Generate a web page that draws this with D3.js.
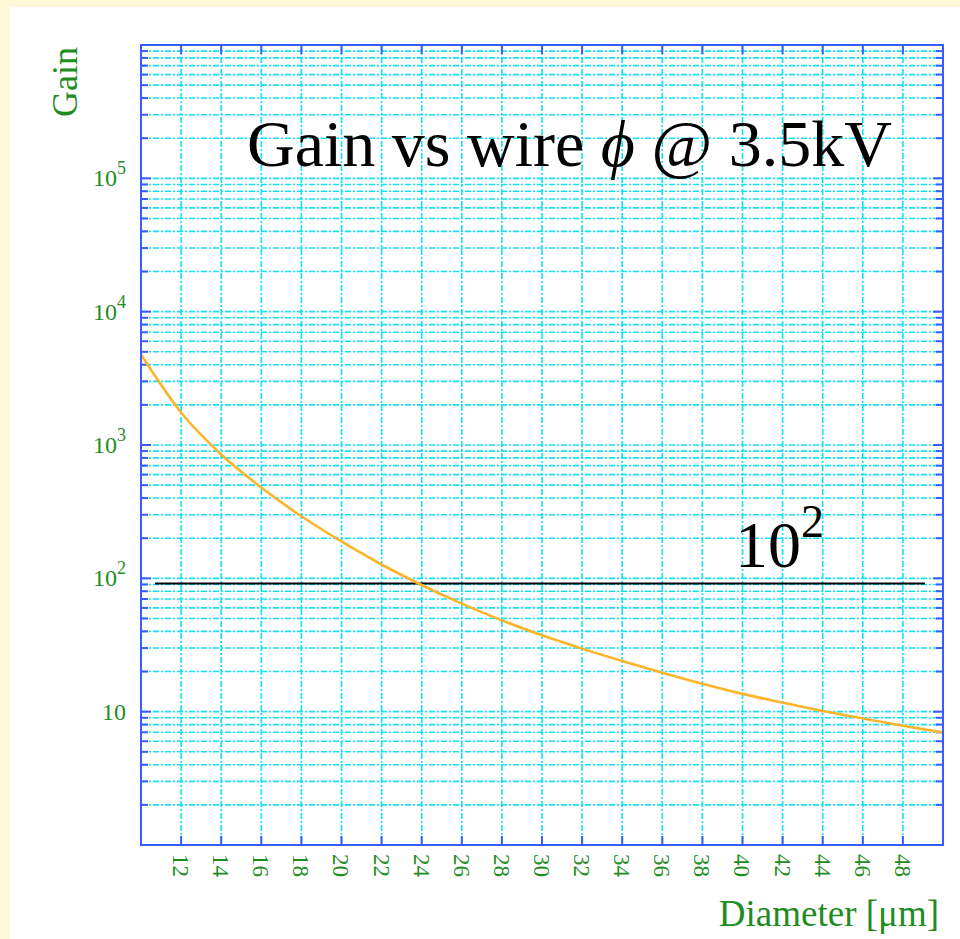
<!DOCTYPE html>
<html lang="en">
<head>
<meta charset="utf-8">
<title>Gain vs wire diameter</title>
<script src="https://cdn.jsdelivr.net/npm/d3@7"></script>
<style>
  body { margin: 0; background: #fdf8d8; }
  svg { display: block; }
</style>
</head>
<body>
<svg width="960" height="939"></svg>
<script>
// wire diameter [um] and gas gain
var diameters = [10, 12, 14, 16, 18, 20, 22, 24, 26, 28, 30, 32, 34, 36, 38, 40, 42, 44, 46, 48, 50];
var gains = [4775, 1754, 849, 480, 292, 189, 127, 89.1, 64.6, 48.4, 37.4, 29.7, 24.0, 19.6, 16.2, 13.6, 11.7, 10.1, 8.89, 7.85, 6.98];

// the horizontal reference line marked 10^2
var refX = [10.7, 49.1];
var refGain = [91.5, 91.5];

var xTicks = [12, 14, 16, 18, 20, 22, 24, 26, 28, 30, 32, 34, 36, 38, 40, 42, 44, 46, 48];
var yMajor = [10, 100, 1000, 10000, 100000];
var yMajorLabels = [["10", ""], ["10", "2"], ["10", "3"], ["10", "4"], ["10", "5"]];

var svg = d3.select("svg");
var green = "#1f8c1f", blue = "#3a5cff", cyan = "#10e2f6";
var serif = "'Liberation Serif', 'Times New Roman', serif";

var pLeft = 141, pTop = 45, pWidth = 802, pHeight = 800;

svg.append("rect").attr("x", 10).attr("y", 7).attr("width", 950).attr("height", 932).attr("fill", "#fff");

var x = d3.scaleLinear().domain([10, 50]).range([pLeft, pLeft + pWidth]);
var y = d3.scaleLog().domain([1, 1e6]).range([pTop + pHeight, pTop]);

// minor positions 1..9 x 10^k
var yAll = [];
for (var k = 0; k < 6; k++) for (var m = 1; m < 10; m++) yAll.push(m * Math.pow(10, k));
var yGrid = yAll.filter(function(v) { return v > 1; });

var g = svg.append("g");

// grid
g.selectAll(".hg").data(yGrid).enter().append("line")
  .attr("x1", pLeft).attr("x2", pLeft + pWidth)
  .attr("y1", function(d) { return y(d); }).attr("y2", function(d) { return y(d); })
  .attr("stroke", cyan).attr("stroke-width", 1.6).attr("stroke-dasharray", "6,2,2,2");
g.selectAll(".vg").data(xTicks).enter().append("line")
  .attr("x1", function(d) { return x(d); }).attr("x2", function(d) { return x(d); })
  .attr("y1", pTop).attr("y2", pTop + pHeight)
  .attr("stroke", cyan).attr("stroke-width", 1.6).attr("stroke-dasharray", "6,2,2,2");

// ticks on all four sides, pointing inward
function tickLen(v) { return yMajor.indexOf(v) >= 0 ? 10 : 7; }
g.selectAll(".lt").data(yGrid).enter().append("line")
  .attr("x1", pLeft).attr("x2", function(d) { return pLeft + tickLen(d); })
  .attr("y1", function(d) { return y(d); }).attr("y2", function(d) { return y(d); })
  .attr("stroke", blue).attr("stroke-width", 2);
g.selectAll(".rt").data(yGrid).enter().append("line")
  .attr("x1", pLeft + pWidth).attr("x2", function(d) { return pLeft + pWidth - tickLen(d); })
  .attr("y1", function(d) { return y(d); }).attr("y2", function(d) { return y(d); })
  .attr("stroke", blue).attr("stroke-width", 2);
g.selectAll(".bt").data(xTicks).enter().append("line")
  .attr("x1", function(d) { return x(d); }).attr("x2", function(d) { return x(d); })
  .attr("y1", pTop + pHeight).attr("y2", pTop + pHeight - 9)
  .attr("stroke", blue).attr("stroke-width", 2);
g.selectAll(".tt").data(xTicks).enter().append("line")
  .attr("x1", function(d) { return x(d); }).attr("x2", function(d) { return x(d); })
  .attr("y1", pTop).attr("y2", pTop + 9)
  .attr("stroke", blue).attr("stroke-width", 2);

// curve and reference line
var line = d3.line().x(function(d) { return x(d[0]); }).y(function(d) { return y(d[1]); });
g.append("path").datum(d3.zip(refX, refGain)).attr("d", line)
  .attr("fill", "none").attr("stroke", "#000").attr("stroke-width", 2);
g.append("path").datum(d3.zip(diameters, gains)).attr("d", line.curve(d3.curveMonotoneX))
  .attr("fill", "none").attr("stroke", "#fdb42a").attr("stroke-width", 2.6);

// frame
g.append("rect").attr("x", pLeft).attr("y", pTop).attr("width", pWidth).attr("height", pHeight)
  .attr("fill", "none").attr("stroke", blue).attr("stroke-width", 2);

// y tick labels
var yl = svg.selectAll(".yl").data(yMajor).enter().append("text")
  .attr("x", 126).attr("y", function(d) { return y(d) + 8; })
  .attr("text-anchor", "end").attr("fill", green)
  .style("font-family", serif).style("font-size", "24px");
yl.append("tspan").text(function(d, i) { return yMajorLabels[i][0]; });
yl.append("tspan").attr("dy", -12).style("font-size", "18px")
  .text(function(d, i) { return yMajorLabels[i][1]; });

// x tick labels, rotated
svg.selectAll(".xl").data(xTicks).enter().append("text")
  .attr("transform", function(d) { return "translate(" + x(d) + "," + 854 + ") rotate(90)"; })
  .attr("dy", "0.35em").attr("fill", green)
  .style("font-family", serif).style("font-size", "23px")
  .text(function(d) { return d; });

// axis titles
svg.append("text").attr("transform", "translate(77,47) rotate(-90)")
  .attr("text-anchor", "end").attr("fill", green)
  .style("font-family", serif).style("font-size", "36px").text("Gain");
svg.append("text").attr("x", 939).attr("y", 926)
  .attr("text-anchor", "end").attr("fill", green)
  .style("font-family", serif).style("font-size", "37px").text("Diameter [\u03bcm]");

// in-plot texts
var t = svg.append("text").attr("x", 247).attr("y", 166)
  .style("font-family", serif).style("font-size", "66px").attr("fill", "#000");
t.append("tspan").text("Gain vs wire ");
t.append("tspan").style("font-style", "italic").text("\u03d5");
t.append("tspan").text(" @ 3.5kV");

var r = svg.append("text").attr("x", 735).attr("y", 567)
  .style("font-family", serif).style("font-size", "66px").attr("fill", "#000");
r.append("tspan").text("10");
r.append("tspan").attr("dy", -30).style("font-size", "46px").text("2");
</script>
</body>
</html>
